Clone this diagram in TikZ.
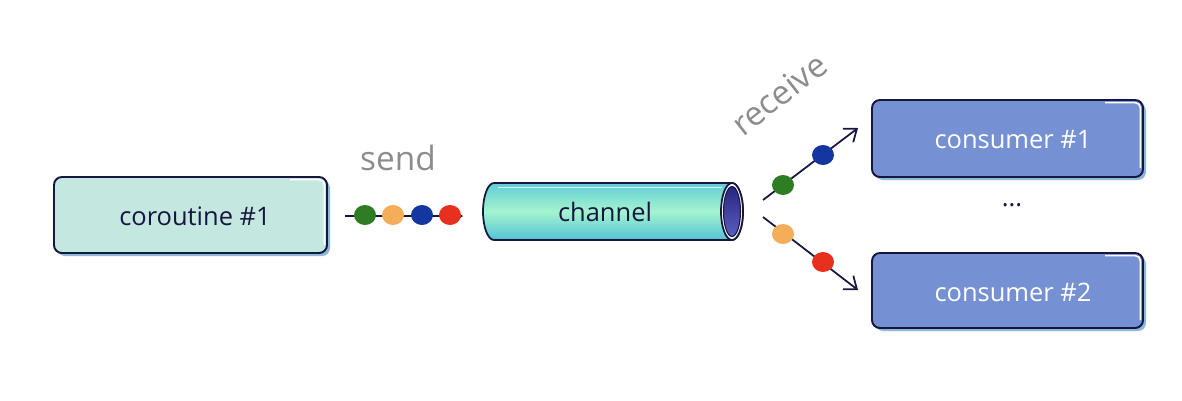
\documentclass[tikz,border=0pt]{standalone}
\usepackage{fontspec}
\setmainfont{Open Sans}
\usetikzlibrary{arrows.meta,shapes.geometric}
\definecolor{navy}{HTML}{16163F}
\definecolor{mintbox}{HTML}{C4E8E0}
\definecolor{consbox}{HTML}{7591D3}
\definecolor{shadowc}{HTML}{8DB8D8}
\definecolor{grayt}{HTML}{8C8C8C}
\definecolor{dgreen}{HTML}{2F7D22}
\definecolor{dorange}{HTML}{F4AD58}
\definecolor{dblue}{HTML}{1436A0}
\definecolor{dred}{HTML}{E8301F}
\definecolor{pipetop}{HTML}{62CDD6}
\definecolor{pipemid}{HTML}{A4F4CF}
\definecolor{pipebot}{HTML}{52C2D6}
\definecolor{holetop}{HTML}{262680}
\definecolor{holebot}{HTML}{5C5EC0}
\tikzset{
  boxshadow/.style={fill=shadowc, rounded corners=4.5pt},
  bbox/.style={draw=navy, line width=1.1pt, rounded corners=4.5pt},
  gloss/.style={white, line width=0.9pt, rounded corners=3pt},
  dot/.style={ellipse, minimum width=0.44cm, minimum height=0.40cm, inner sep=0pt},
  flow/.style={draw=navy, line width=1pt},
  lbl/.style={font=\fontsize{14.5}{16}\selectfont},
  verb/.style={text=grayt, font=\fontsize{19}{22}\selectfont}
}
\begin{document}
\begin{tikzpicture}[x=0.02cm, y=-0.02cm]
\useasboundingbox (0,0) rectangle (1182,400);
% coroutine box
\fill[boxshadow] (57,180) rectangle (330,256);
\draw[bbox, fill=mintbox] (54,177) rectangle (327,253);
\draw[gloss] (290,179.6) -- (324.4,179.6) -- (324.4,245);
\node[lbl, text=navy] (co) at (195,216) {coroutine \#1};
% consumer boxes
\fill[boxshadow] (875,103) rectangle (1146,180);
\draw[bbox, fill=consbox] (872,100) rectangle (1143,177);
\draw[gloss] (1105,102.6) -- (1140.4,102.6) -- (1140.4,168);
\node[lbl, text=white] (c1) at (1013,140) {consumer \#1};
\fill[boxshadow] (875,256) rectangle (1146,331);
\draw[bbox, fill=consbox] (872,253) rectangle (1143,328);
\draw[gloss] (1105,255.6) -- (1140.4,255.6) -- (1140.4,320);
\node[lbl, text=white] (c2) at (1013,292) {consumer \#2};
\node[lbl, text=navy] (dots) at (1012,205) {...};
% channel
\path[draw=navy, line width=1pt, top color=pipetop, bottom color=pipebot, middle color=pipemid]
  (732,183) -- (494,183) arc[start angle=90, end angle=270, x radius=0.22cm, y radius=0.57cm]
  -- (732,240) arc[start angle=270, end angle=450, x radius=0.22cm, y radius=0.57cm] -- cycle;
\draw[white, line width=1.1pt, opacity=0.8] (498,187.5) -- (722,187.5);
\draw[draw=navy, line width=1pt, fill=white] (732,211.5) ellipse[x radius=0.22cm, y radius=0.57cm];
\shade[top color=holetop, bottom color=holebot] (732,211.5) ellipse[x radius=0.17cm, y radius=0.50cm];
\draw[navy, line width=0.6pt] (732,211.5) ellipse[x radius=0.17cm, y radius=0.50cm];
\node[lbl, text=navy] (ch) at (605,212) {channel};
% send
\node[verb] (send) at (398,158) {send};
\coordinate (s0) at (345,216);
\coordinate (s1) at (463,216);
\draw[flow, -{Straight Barb[length=1.2mm,width=1.6mm]}] (s0) -- (s1);
\node[dot, fill=dgreen] (g1) at (365,215) {};
\node[dot, fill=dorange] (o1) at (393,215) {};
\node[dot, fill=dblue] (b1) at (422,215) {};
\node[dot, fill=dred] (r1) at (450,215) {};
% receive
\node[verb, rotate=38] (recv) at (779,94) {receive};
\coordinate (u0) at (763,200);
\coordinate (u1) at (858,128);
\coordinate (l0) at (763,217);
\coordinate (l1) at (858,290);
\draw[flow, -{Straight Barb[length=2.2mm,width=3.4mm]}] (u0) -- (u1);
\draw[flow, -{Straight Barb[length=2.2mm,width=3.4mm]}] (l0) -- (l1);
\node[dot, fill=dgreen] (g2) at (783,185) {};
\node[dot, fill=dblue] (b2) at (823,155) {};
\node[dot, fill=dorange] (o2) at (783,234) {};
\node[dot, fill=dred] (r2) at (823,262) {};
\end{tikzpicture}
\end{document}
